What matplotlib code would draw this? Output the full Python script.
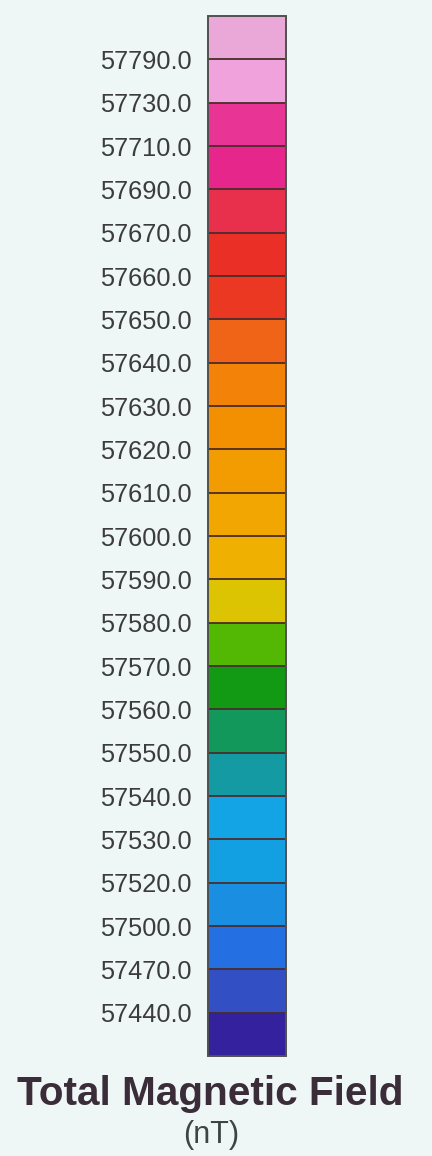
import matplotlib
matplotlib.use("Agg")
import matplotlib.pyplot as plt
import matplotlib.colors as mcolors
import matplotlib.colorbar as mcolorbar

# level labels (bottom to top) and fill colours for the 24 classes (bottom to top)
levels = [57440.0, 57470.0, 57500.0, 57520.0, 57530.0, 57540.0, 57550.0, 57560.0,
          57570.0, 57580.0, 57590.0, 57600.0, 57610.0, 57620.0, 57630.0, 57640.0,
          57650.0, 57660.0, 57670.0, 57690.0, 57710.0, 57730.0, 57790.0]
lower_end = 57410.0
upper_end = 57850.0
class_colors = ["#33219e", "#3250c4", "#2470e2", "#1a8fe2", "#12a0e2", "#12a4e4",
                "#149aa2", "#12985a", "#129a14", "#52b804", "#dcc402", "#f0b002",
                "#f2a602", "#f29c02", "#f29002", "#f28208", "#f06418", "#ea3822",
                "#ea3026", "#e8304c", "#e6268a", "#e83494", "#f0a2dc", "#eaa8d8"]

bg = "#eef6f6"
fig = plt.figure(figsize=(4.32, 11.56), dpi=100, facecolor=bg)
W, H = 432, 1156
cax = fig.add_axes([208 / W, 1 - 1056 / H, 78 / W, 1040 / H])

cmap = mcolors.ListedColormap(class_colors)
bounds = [lower_end] + levels + [upper_end]
norm = mcolors.BoundaryNorm(bounds, cmap.N)
cb = mcolorbar.ColorbarBase(cax, cmap=cmap, norm=norm, boundaries=bounds,
                            ticks=levels, spacing="uniform", drawedges=True,
                            orientation="vertical")
cb.outline.set_edgecolor("#505050")
cb.outline.set_linewidth(1.4)
cb.dividers.set_color("#4a2c2c")
cb.dividers.set_linewidth(1.3)

cax.minorticks_off()
cax.yaxis.set_ticks_position("left")
cax.tick_params(axis="y", which="both", length=0, pad=12, labelsize=18.3,
                labelcolor="#3c3c3c")
cax.set_yticklabels([f"{v:.1f}" for v in levels], family="Liberation Sans")

fig.text(210 / W, 1 - 1105 / H, "Total Magnetic Field", ha="center", va="baseline",
         fontsize=29.2, fontweight="bold", color="#3a2c38", family="Liberation Sans")
fig.text(211 / W, 1 - 1143 / H, "(nT)", ha="center", va="baseline",
         fontsize=22, color="#3c4444", family="Liberation Sans")

fig.savefig("out.png", dpi=100, facecolor=bg)
